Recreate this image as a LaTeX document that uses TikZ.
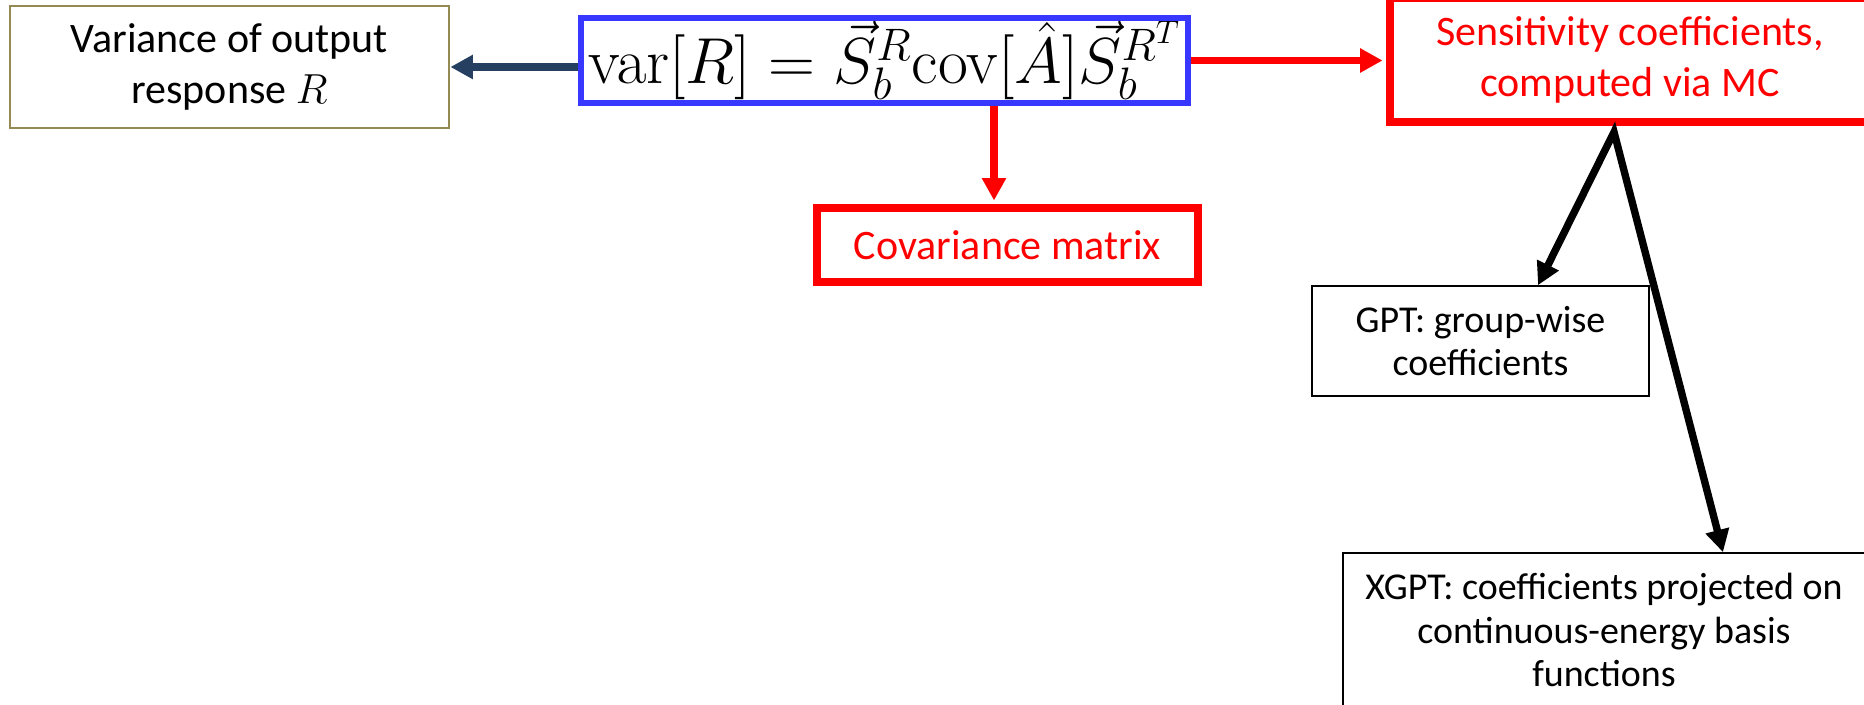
\RequirePackage{fix-cm}
\documentclass[tikz,border=0pt]{standalone}
\usepackage[no-math]{fontspec}
\setmainfont{Carlito}
\usepackage{amsmath}
\usetikzlibrary{arrows.meta}
\definecolor{olivebox}{RGB}{148,138,84}
\definecolor{eqblue}{RGB}{55,55,255}
\definecolor{navyarrow}{RGB}{38,64,98}

\begin{document}
\begin{tikzpicture}[x=0.02cm,y=-0.02cm,>={Triangle[length=4.5mm,width=4.6mm]},
  every node/.style={font=\fontsize{23.9}{29}\selectfont,align=center,inner sep=0pt},
  redbox/.style={draw=red,text=red,line width=4.5pt},
  gptbox/.style={draw,line width=0.9pt,font=\fontsize{21.6}{24.5}\selectfont},
  link/.style={->,line width=4.2pt}]
\useasboundingbox (0,0) rectangle (1864,705);
\clip (0,0) rectangle (1864,705);
% boxes
\node[draw=olivebox,line width=1.1pt,minimum width=8.8cm,minimum height=2.44cm] (var) at (229.5,67) {Variance of output\\response $R$};
\node[draw=eqblue,line width=3.4pt,minimum width=12.14cm,minimum height=1.7cm] (eq) at (884.5,60.5)
  {\fontsize{37}{40}\selectfont $\mathrm{var}[R]=\vec{S}_b^R\mathrm{cov}[\hat{A}]\vec{S}_b^{R^T}$};
\node[redbox,minimum width=9.6cm,minimum height=2.48cm] (sens) at (1630,60) {Sensitivity coefficients,\\computed via MC};
\node[redbox,minimum width=7.62cm,minimum height=1.48cm] (cov) at (1007.5,245) {Covariance matrix};
\node[gptbox,minimum width=6.74cm,minimum height=2.2cm] (gpt) at (1480.5,341) {GPT: group-wise\\coefficients};
\node[gptbox,minimum width=10.44cm,minimum height=3.08cm] (xgpt) at (1604,630) {XGPT: coefficients projected on\\continuous-energy basis\\functions};
% arrows
\coordinate (drop) at ([xshift=-0.27cm]cov.north);
\coordinate (fork) at (1614,132);
\draw[link,navyarrow] (eq.west |- var.east) -- (var.east);
\draw[link,red,shorten >=2pt] (eq.east) -- (eq.east -| sens.west);
\draw[link,red,shorten >=2pt] (eq.south -| drop) -- (drop);
\draw[link,<->] ([xshift=1.15cm]gpt.north) -- (fork) -- ([xshift=2.38cm]xgpt.north);
\end{tikzpicture}
\end{document}
